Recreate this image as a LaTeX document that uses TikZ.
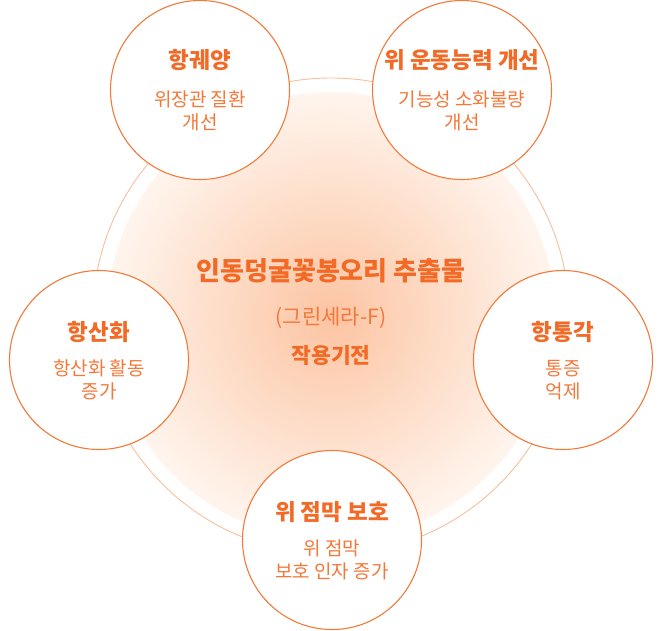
\documentclass[tikz,border=0pt]{standalone}
\usepackage{fontspec}
\setmainfont{Noto Sans CJK KR}
\definecolor{ostroke}{HTML}{F27A3A}
\definecolor{otitle}{HTML}{F26A25}
\definecolor{osub}{HTML}{F4783A}
\definecolor{oring}{HTML}{F9BE9C}
\definecolor{discin}{HTML}{FCC4A2}
\definecolor{discout}{HTML}{FFF5EE}
\tikzset{
  bubble/.style={circle, draw=ostroke, line width=1.1pt, fill=white, minimum size=179pt, inner sep=0pt},
  ctitle/.style={text=otitle, font=\fontsize{22.5}{24}\selectfont\bfseries, inner sep=0pt},
  csub/.style={text=osub, font=\fontsize{19}{23}\selectfont, align=center, inner sep=0pt},
}
\begin{document}
\begin{tikzpicture}[x=1pt,y=-1pt]
\useasboundingbox (0,0) rectangle (660,630);
\coordinate (O) at (331,316);
\draw[oring, line width=0.9pt] (O) circle (238);
\shade[inner color=discin, outer color=discout] (O) circle (224);
% centre text
\node[text=otitle, font=\fontsize{26}{28}\selectfont\bfseries, inner sep=0pt] (t1) at (331,271) {인동덩굴꽃봉오리 추출물};
\node[text=osub, font=\fontsize{21}{24}\selectfont, inner sep=0pt] (t2) at (331,318) {(그린세라-F)};
\node[text=otitle, font=\fontsize{21.5}{24}\selectfont\bfseries, inner sep=0pt] (t3) at (331,355) {작용기전};
% bubbles
\node[bubble] (a) at (200,90) {};
\node[bubble] (b) at (462,90) {};
\node[bubble] (c) at (99,360) {};
\node[bubble] (d) at (563,360) {};
\node[bubble] (e) at (332,540) {};
% bubble texts
\node[ctitle] (a1) at ([yshift=30pt]a.center) {항궤양};
\node[csub] (a2) at ([yshift=-21pt]a.center) {위장관 질환\\개선};
\node[ctitle] (b1) at ([yshift=30pt]b.center) {위 운동능력 개선};
\node[csub] (b2) at ([yshift=-21pt]b.center) {기능성 소화불량\\개선};
\node[ctitle] (c1) at ([yshift=28pt]c.center) {항산화};
\node[csub] (c2) at ([yshift=-20pt]c.center) {항산화 활동\\증가};
\node[ctitle] (d1) at ([yshift=28pt]d.center) {항통각};
\node[csub] (d2) at ([yshift=-20pt]d.center) {통증\\억제};
\node[ctitle] (e1) at ([yshift=28pt]e.center) {위 점막 보호};
\node[csub] (e2) at ([yshift=-20pt]e.center) {위 점막\\보호 인자 증가};
\end{tikzpicture}
\end{document}
